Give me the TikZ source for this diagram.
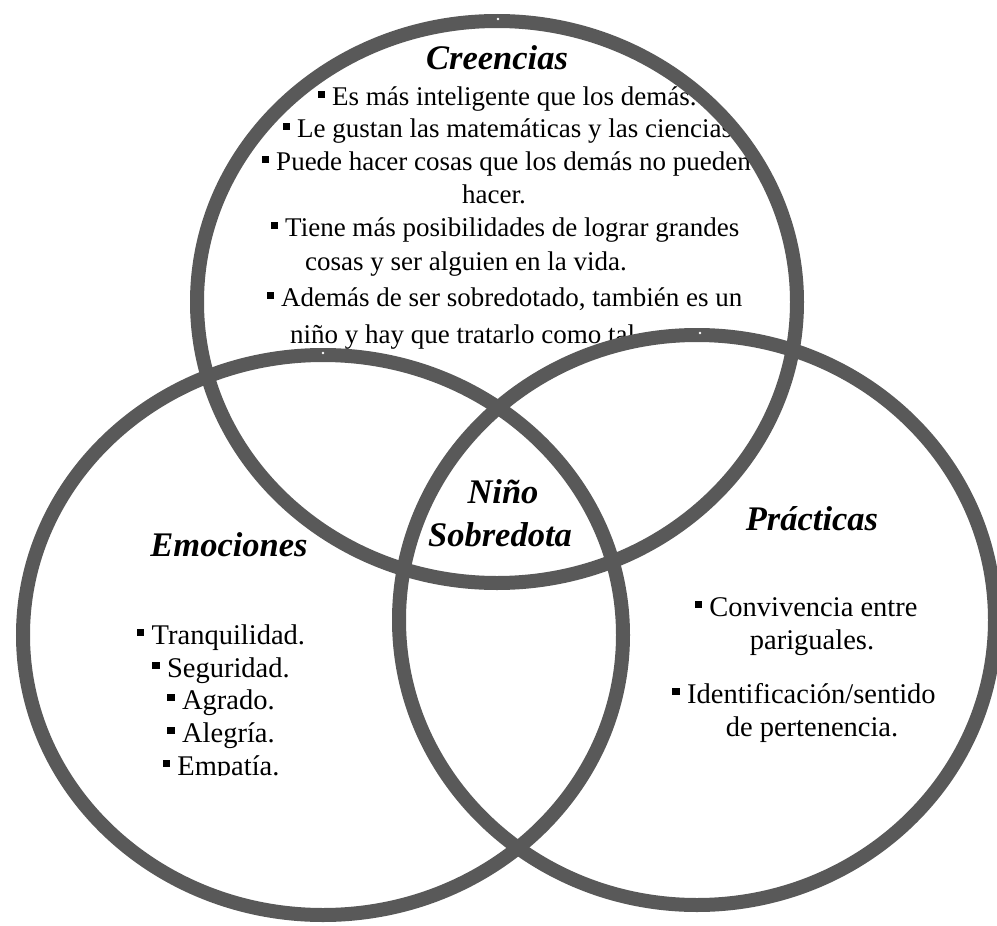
\documentclass[tikz,border=0pt]{standalone}
\usepackage{fontspec}
\setmainfont{Liberation Serif}
\definecolor{ringgray}{HTML}{595959}
% small square bullet used in the item lists
\newcommand{\sqbul}{\rule[0.27em]{0.26em}{0.26em}\hspace{0.26em}}
\begin{document}
\begin{tikzpicture}[x=1pt,y=-1pt,
  ring/.style={draw=ringgray, line width=14pt},
  heading/.style={font=\fontsize{34.5}{40}\selectfont\bfseries\itshape, inner sep=0pt, anchor=base},
  itemC/.style={font=\fontsize{27}{32}\selectfont, inner sep=0pt, anchor=base west},
  itemE/.style={font=\fontsize{28.5}{33}\selectfont, inner sep=0pt, anchor=base},
  handle/.style={circle, fill=white, inner sep=0pt, minimum size=2.6pt}]
\useasboundingbox (0,0) rectangle (997,926);

% Creencias
\node[heading] (tC) at (497,69) {Creencias};
\node[itemC] (c1) at (318,105) {\sqbul Es más inteligente que los demás.};
\node[itemC] (c2) at (283,137) {\sqbul Le gustan las matemáticas y las ciencias.};
\node[itemC] (c3) at (262,170) {\sqbul Puede hacer cosas que los demás no pueden};
\node[itemC] (c4) at (462,203) {hacer.};
\node[itemC] (c5) at (271,236) {\sqbul Tiene más posibilidades de lograr grandes};
\node[itemC] (c6) at (305,270) {cosas y ser alguien en la vida.};
\node[itemC] (c7) at (267,306) {\sqbul Además de ser sobredotado, también es un};
\node[itemC] (c8) at (290,343) {niño y hay que tratarlo como tal.};

% Emociones (text box clipped at its lower edge)
\node[heading] (tE) at (229,556) {Emociones};
\begin{scope}
  \clip (90,590) rectangle (360,775);
  \node[itemE] (e1) at (221,644) {\sqbul Tranquilidad.};
  \node[itemE] (e2) at (221,677) {\sqbul Seguridad.};
  \node[itemE] (e3) at (221,709) {\sqbul Agrado.};
  \node[itemE] (e4) at (221,742) {\sqbul Alegría.};
  \node[itemE] (e5) at (221,775) {\sqbul Empatía.};
\end{scope}

% Prácticas
\node[heading] (tP) at (812,530) {Prácticas};
\node[itemE] (p1) at (806,616) {\sqbul Convivencia entre};
\node[itemE] (p2) at (812,649) {pariguales.};
\node[itemE] (p3) at (804,703) {\sqbul Identificación/sentido};
\node[itemE] (p4) at (812,736) {de pertenencia.};

% centre
\node[heading] (n1) at (503,503) {Niño};
\node[heading] (n2) at (500,546) {Sobredota};

% the three rings
\draw[ring] (497,302) ellipse [x radius=300pt, y radius=281pt];
\draw[ring] (323,635) ellipse [x radius=300pt, y radius=280pt];
\draw[ring] (697,620) ellipse [x radius=298pt, y radius=285pt];

% shape handles on the rings
\node[handle] (h1) at (498,19) {};
\node[handle] (h2) at (323,353) {};
\node[handle] (h3) at (700,333) {};
\end{tikzpicture}
\end{document}
